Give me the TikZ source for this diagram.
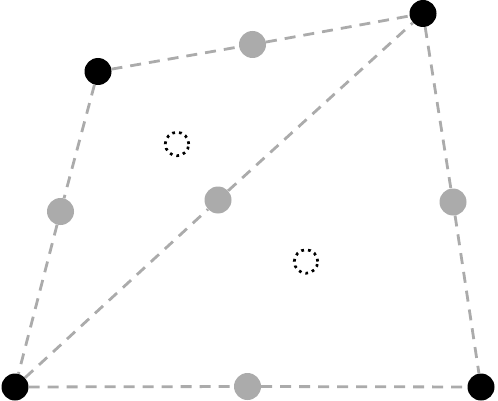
\documentclass[tikz,border=0pt]{standalone}
\usepackage{tikz}
\usetikzlibrary{positioning,calc}

\begin{document}
\begin{tikzpicture}[x=1pt,y=-1pt,
  vtx/.style={circle,fill=black,inner sep=0pt,minimum size=27pt},
  mid/.style={circle,fill=black!33,inner sep=0pt,minimum size=27pt},
  ctr/.style={circle,draw=black,line width=2.7pt,dash pattern=on 2.7pt off 4.1pt,inner sep=0pt,minimum size=23.5pt},
  edge/.style={draw=black!33,line width=2.8pt,dash pattern=on 11pt off 8pt}]
\useasboundingbox (0,0) rectangle (498,401);
% corner points of the quad, edge midpoints, cell centres
\node[vtx] (tl) at (98,71.5) {};
\node[vtx] (tr) at (423,13.5) {};
\node[vtx] (bl) at (15,387) {};
\node[vtx] (br) at (481,387) {};
\node[mid] (mtop) at (252.5,44.5) {};
\node[mid] (mleft) at (60.5,211.5) {};
\node[mid] (mdiag) at (218,200) {};
\node[mid] (mright) at (453,202) {};
\node[mid] (mbot) at (247.5,386.5) {};
\node[ctr] (cup) at (177,144) {};
\node[ctr] (clow) at (306,261.5) {};
% dashed edges
\draw[edge] (tl) -- (mtop) -- (tr);
\draw[edge] (tl) -- (mleft) -- (bl);
\draw[edge] (bl) -- (mdiag) -- (tr);
\draw[edge] (tr) -- (mright) -- (br);
\draw[edge] (bl) -- (mbot) -- (br);
\end{tikzpicture}
\end{document}
